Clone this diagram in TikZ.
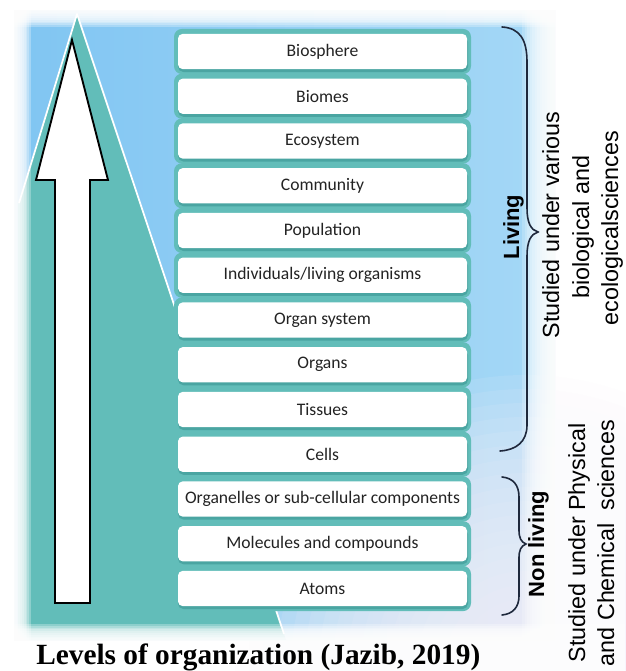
\documentclass[tikz,border=0pt]{standalone}
\usepackage{fontspec}
\setmainfont{Liberation Serif}
\newfontfamily\boxfont{Carlito}
\newfontfamily\arialfont{Liberation Sans}
\definecolor{bgblue}{RGB}{165,216,246}
\definecolor{bgblueL}{RGB}{128,197,242}
\definecolor{tealc}{RGB}{98,189,185}
\definecolor{tealdk}{RGB}{74,165,162}
\definecolor{lav}{RGB}{246,242,253}
\definecolor{bracec}{RGB}{30,40,60}
\definecolor{boxtext}{RGB}{35,35,35}
\begin{document}
\begin{tikzpicture}[x=0.75pt,y=-0.75pt,
  lvlbox/.style={fill=white, rounded corners=3.5pt, minimum width=216.75pt, minimum height=26.4pt,
    inner sep=0pt, text=boxtext, font=\boxfont\fontsize{13.2}{15}\selectfont},
  sidetxt/.style={rotate=90, anchor=base, font=\arialfont\fontsize{17.5}{21}\selectfont},
  sidebold/.style={rotate=90, anchor=base, font=\arialfont\bfseries\fontsize{16.5}{20}\selectfont},
  bracestyle/.style={draw=bracec, line width=1.2pt, line cap=round},
  haze/.style={fill=white, opacity=0.28}]
\useasboundingbox (0,0) rectangle (625,671);
% background
\fill[white] (0,0) rectangle (625,671);
\shade[left color=bgblueL, right color=bgblue] (14,10) rectangle (555,640);
% lower-right lavender glow
\foreach \r in {290,276,...,10}{
  \fill[lav, opacity=0.11] (525,665) circle (\r);
}
% right fade
\foreach \k in {0,...,15}{
  \fill[white, opacity=0.2] (522+2.5*\k,0) rectangle (625,660);
}
% top fade
\foreach \k in {0,...,9}{
  \fill[haze] (0,0) rectangle (625,27-1.8*\k);
}
% pyramid
\fill[tealc] (77,14) -- (18,205) -- (18,640) -- (286,640) -- cycle;
\draw[white, line width=1.3pt, line join=round] (19,203) -- (77,14) -- (284,634);
% left and bottom fades
\foreach \k in {0,...,9}{
  \fill[haze] (0,0) rectangle (31-1.8*\k,671);
  \fill[haze] (0,624+1.8*\k) rectangle (625,671);
}
% arrow
\draw[fill=white, line width=1.4pt, line join=miter]
  (55,603) -- (55,180) -- (36,180) -- (72,40) -- (108,180) -- (90,180) -- (90,603) -- cycle;
% level boxes
\foreach \t [count=\i from 0] in {Biosphere, Biomes, Ecosystem, Community, Population,
  Individuals/living organisms, Organ system, Organs, Tissues, Cells,
  Organelles or sub-cellular components, Molecules and compounds, Atoms}{
  \pgfmathsetmacro\c{51.5+44.75*\i}
  \fill[tealc, rounded corners=6pt] (174,\c-22.6) rectangle (471,\c+22.6);
  \fill[tealdk, rounded corners=4pt] (178,\c-15) rectangle (468,\c+20.5);
  \node[lvlbox] (b\i) at (322.5,\c) {\t};
}
% braces
\draw[bracestyle] (502,27) .. controls (520,28) and (527,40) .. (527,62) -- (527,208)
  .. controls (527,223) and (531,230) .. (538,232) .. controls (531,234) and (527,241) .. (527,256)
  -- (527,425) .. controls (527,442) and (516,450) .. (500,451);
\draw[bracestyle] (502,477) .. controls (513,478) and (519,485) .. (519,497) -- (519,530)
  .. controls (519,538) and (521,542) .. (526,544) .. controls (521,546) and (519,550) .. (519,558)
  -- (519,596) .. controls (519,607) and (513,614) .. (502,615);
% side labels
\node[sidebold] (liv) at (519,227) {Living};
\node[sidetxt] (l1) at (559,225) {Studied under various};
\node[sidetxt] (l2) at (589,227) {biological and};
\node[sidetxt] (l3) at (618,228) {ecologicalsciences};
\node[sidebold] (nl) at (544,544) {Non living};
\node[sidetxt] (n1) at (585,543) {Studied under Physical};
\node[sidetxt] (n2) at (614,543) {and Chemical\ \ sciences};
% caption
\node[anchor=base west, inner sep=0pt, font=\bfseries\fontsize{22}{26}\selectfont] (cap) at (36,664)
  {Levels of organization (Jazib, 2019)};
\end{tikzpicture}
\end{document}
